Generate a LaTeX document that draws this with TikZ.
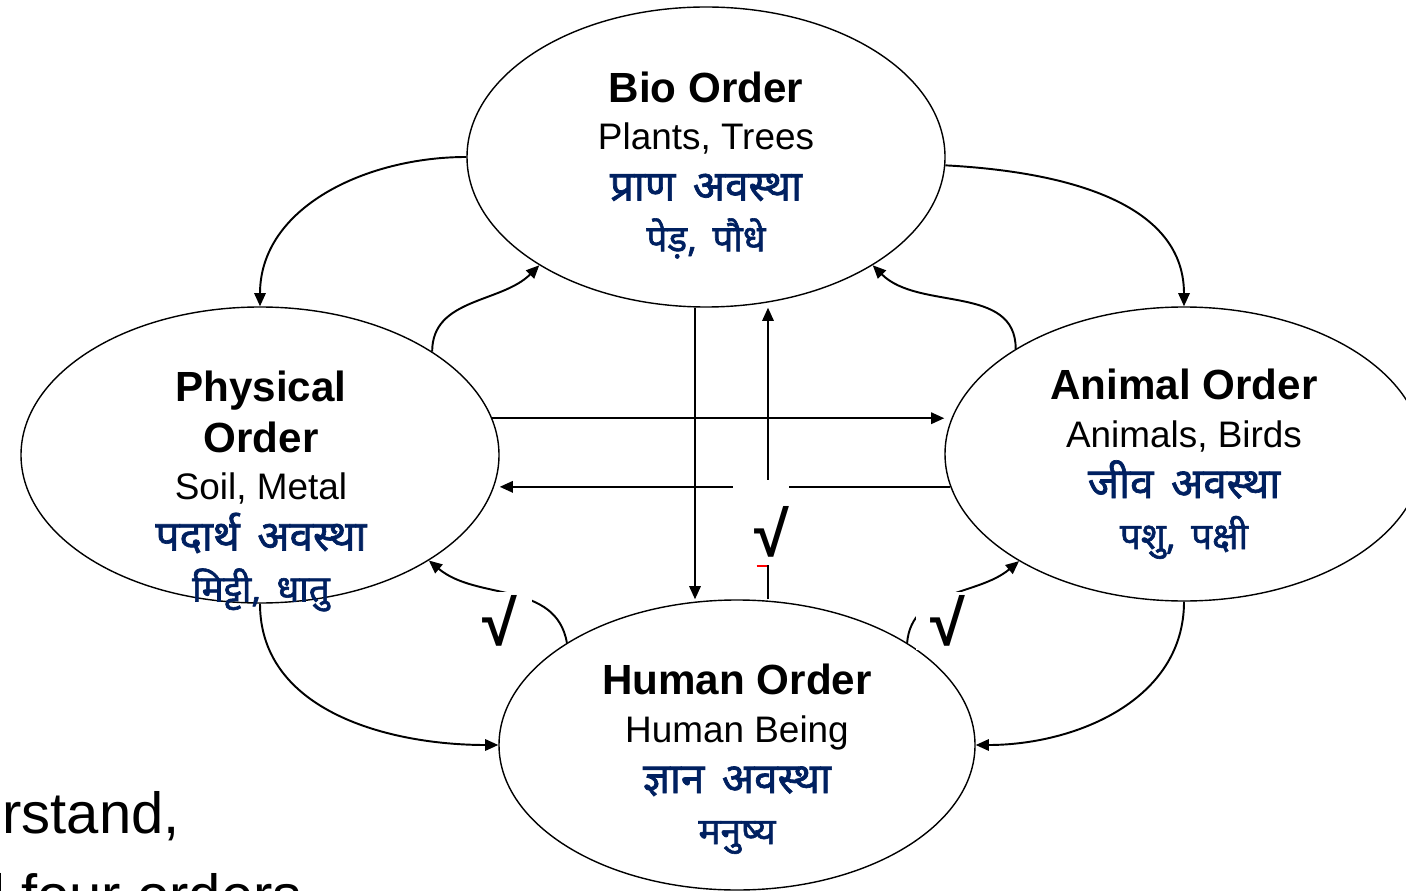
\documentclass[tikz,border=0pt]{standalone}
\usepackage{fontspec}
\setmainfont{Liberation Sans}
\newfontfamily\deva[Script=Devanagari, FakeBold=1.6, WordSpace=1.6]{Noto Sans}
\usetikzlibrary{arrows.meta,positioning,shapes.geometric}
\definecolor{hindiblue}{RGB}{0,32,96}
\newcommand{\ordertitle}{\fontsize{24}{29}\selectfont\bfseries}
\newcommand{\hindimain}{\deva\fontsize{24}{29}\selectfont\color{hindiblue}}
\newcommand{\hindisub}{\deva\fontsize{21}{29}\selectfont\color{hindiblue}}

\begin{document}
\begin{tikzpicture}[
    order/.style={draw, ellipse, line width=0.8pt, inner sep=0pt,
                  minimum width=9.56cm, minimum height=6cm},
    blurb/.style={align=center, font=\fontsize{21}{29}\selectfont},
    flow/.style={line width=1.1pt, -{Triangle[length=7.5pt,width=6.5pt]}},
    tick/.style={fill=white, inner xsep=0.3cm, inner ysep=0.08cm,
                 font=\fontsize{36}{38}\selectfont\bfseries}
  ]
  \useasboundingbox (0,0) rectangle (28.12,17.8);
  \clip (0,0) rectangle (28.12,17.8);

  % leftover slide text
  \node[anchor=base west, inner sep=0pt, font=\fontsize{33}{40}\selectfont] (under) at (0.04,1.14) {rstand,};
  \node[anchor=base west, inner sep=0pt, font=\fontsize{33}{40}\selectfont] (four) at (-0.16,-0.5) {l four orders};

  % the four orders
  \node[order] (bio) at (14.12,14.66) {};
  \node[order, minimum height=5.92cm] (physical) at (5.2,8.7) {};
  \node[order, minimum height=5.88cm] (animal) at (23.68,8.72) {};
  \node[order, minimum width=9.52cm, minimum height=5.8cm] (human) at (14.74,2.9) {};

  \node[blurb] (bio text) at (14.12,14.5)
    {{\ordertitle Bio Order}\\[-2pt] Plants, Trees\\ {\hindimain प्राण अवस्था}\\ {\hindisub पेड़, पौधे}};
  \node[blurb] (physical text) at (5.22,7.98)
    {{\ordertitle Physical}\\ {\ordertitle Order}\\[-2pt] Soil, Metal\\ {\hindimain पदार्थ अवस्था}\\ {\hindisub मिट्टी, धातु}};
  \node[blurb] (animal text) at (23.68,8.52)
    {{\ordertitle Animal Order}\\[-2pt] Animals, Birds\\ {\hindimain जीव अवस्था}\\ {\hindisub पशु, पक्षी}};
  \node[blurb] (human text) at (14.74,2.62)
    {{\ordertitle Human Order}\\[-2pt] Human Being\\ {\hindimain ज्ञान अवस्था}\\ {\hindisub मनुष्य}};

  % outer cycle
  \draw[flow] (bio.west) to[out=180,in=90] (physical.north);
  \draw[flow] (bio.-2) to[out=-3,in=90] (animal.north);
  \draw[flow] (physical.south) to[out=-90,in=180] (human.west);
  \draw[flow] (animal.south) to[out=-90,in=0] (human.east);

  % back to bio order
  \draw[flow] (physical.31.7) to[out=90,in=-135] (bio.-147);
  \draw[flow] (animal.148.4) to[out=90,in=-45] (bio.-33);

  % straight links
  \draw[flow] (physical.9) -- (physical.9 -| animal.west);
  \draw[flow] (animal.-172) -- (animal.-172 -| physical.east);
  \draw[flow] ([xshift=-0.22cm]bio.south) -- ([xshift=-0.22cm]bio.south |- human.north);
  \draw[flow] ([xshift=0.62cm]human.north) -- ([xshift=0.62cm]human.north |- bio.south);

  % from human order
  \draw[flow] (human.149) to[out=100,in=-40] (physical.-32);
  \draw[flow] (human.31.5) to[out=85,in=-140] (animal.-147);

  \node[tick] (tickleft) at (10.0,5.38) {√};
  \node[tick] (tickright) at (18.96,5.38) {√};
  \node[tick, anchor=north west, inner sep=0pt, text height=1.52cm, text depth=0.18cm]
    (tickmid) at (14.66,8.2) {\hspace{0.42cm}√};
  \draw[red, line width=1pt] ([xshift=-0.09cm]tickmid.south) -- ([xshift=0.12cm]tickmid.south);
\end{tikzpicture}
\end{document}
